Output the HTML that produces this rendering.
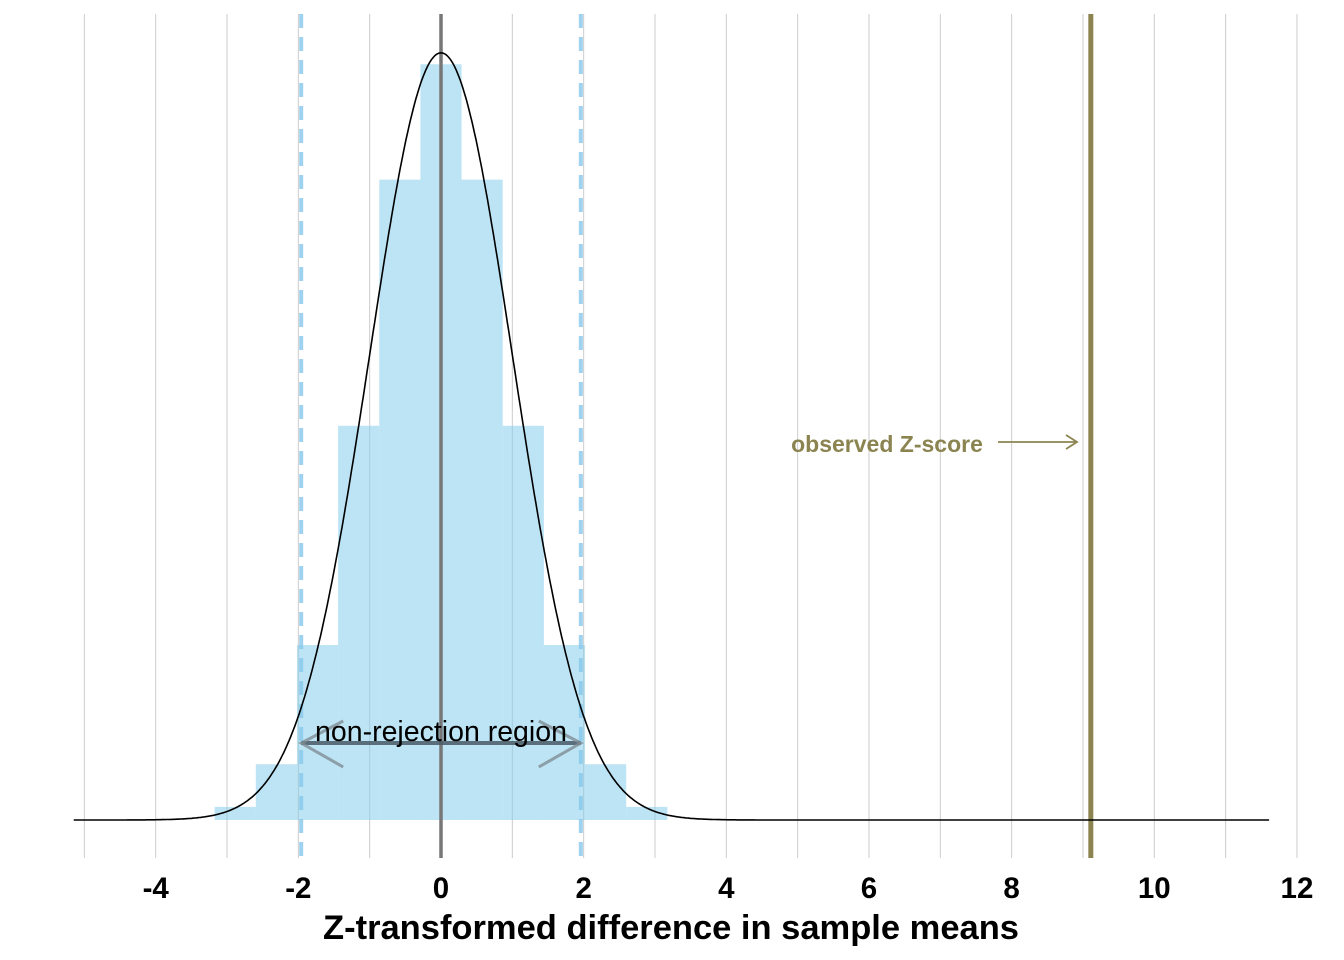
<!DOCTYPE html>
<html><head><meta charset="utf-8"><style>
body{margin:0;background:#fff;}
svg{display:block;font-family:"Liberation Sans",sans-serif;}
</style></head><body>
<svg id="chart" width="1344" height="960" viewBox="0 0 1344 960" xmlns="http://www.w3.org/2000/svg">
<g id="grid"></g>
<g id="bars"></g>
<g id="refs"></g>
<path id="curve" fill="none" stroke="#000" stroke-width="1.6"></path>
<g id="ticks" font-size="29.5" font-weight="bold" text-anchor="middle"></g>
<text x="671" y="939" font-size="34.5" font-weight="bold" text-anchor="middle">Z-transformed difference in sample means</text>
<g id="annot"></g>
</svg>
<script>
const binCenters=[-2.885,-2.308,-1.731,-1.154,-0.577,0,0.577,1.154,1.731,2.308,2.885];
const binDensity=[0.0068,0.029,0.091,0.205,0.333,0.393,0.333,0.205,0.091,0.029,0.0068];
const binWidth=0.577;
const tickVals=[-4,-2,0,2,4,6,8,10,12];
const gridVals=[-5,-4,-3,-2,-1,0,1,2,3,4,5,6,7,8,9,10,11,12];
const critVals=[-1.96,1.96];
const observedZ=9.11;
const NS='http://www.w3.org/2000/svg';
const X=v=>441+v*71.33;
const Y=d=>820-d*1923;
function mk(t,a,p){const e=document.createElementNS(NS,t);for(const k in a)e.setAttribute(k,a[k]);p.appendChild(e);return e;}
const grid=document.getElementById('grid');
gridVals.forEach(v=>{const l=mk('line',{x1:X(v),x2:X(v),y1:14,y2:858,stroke:'#cccccc','stroke-width':1},grid);

});
const bars=document.getElementById('bars');
binCenters.forEach((c,i)=>{const r=mk('rect',{x:X(c-binWidth/2),y:Y(binDensity[i]),width:X(binWidth)-X(0),height:Y(0)-Y(binDensity[i]),fill:'rgba(135,206,235,0.55)'},bars);

});
const refs=document.getElementById('refs');
critVals.forEach(v=>{const l=mk('line',{x1:X(v),x2:X(v),y1:14,y2:858,stroke:'#87c8ec','stroke-width':4,'stroke-dasharray':'14 9',opacity:0.8},refs);

});
let z=mk('line',{x1:X(0),x2:X(0),y1:14,y2:858,stroke:'#777','stroke-width':3.5},refs);


let o=mk('line',{x1:X(observedZ),x2:X(observedZ),y1:14,y2:858,stroke:'#8b8450','stroke-width':5},refs);


let d='';for(let v=-5.15;v<=11.62;v+=0.02){const p=Math.exp(-v*v/2)/Math.sqrt(2*Math.PI);d+=(d?'L':'M')+X(v).toFixed(1)+','+Y(p).toFixed(1);}
document.getElementById('curve').setAttribute('d',d);
const ticks=document.getElementById('ticks');
tickVals.forEach(v=>{const t=mk('text',{x:X(v),y:898},ticks);t.textContent=v;

});
const an=document.getElementById('annot');
const a1=X(-1.96),a2=X(1.96),ay=743;
mk('line',{x1:a1,x2:a2,y1:ay,y2:ay,stroke:'#4a5a66','stroke-width':4,opacity:0.85},an);
mk('polyline',{points:`${a1+42},${ay-22} ${a1},${ay} ${a1+42},${ay+24}`,fill:'none',stroke:'#7f8c95','stroke-width':3,opacity:0.8},an);
mk('polyline',{points:`${a2-42},${ay-22} ${a2},${ay} ${a2-42},${ay+24}`,fill:'none',stroke:'#7f8c95','stroke-width':3,opacity:0.8},an);
const nt=mk('text',{x:X(0),y:741,'font-size':28.5,'text-anchor':'middle'},an);nt.textContent='non-rejection region';


const ot=mk('text',{x:887,y:452,'font-size':23,'font-weight':'bold','text-anchor':'middle',fill:'#8b8450'},an);ot.textContent='observed Z-score';


mk('line',{x1:998,x2:1077,y1:442,y2:442,stroke:'#8b8450','stroke-width':1.8},an);
mk('polyline',{points:'1066,435 1077,442 1066,449',fill:'none',stroke:'#8b8450','stroke-width':1.8},an);
</script>
</body></html>
